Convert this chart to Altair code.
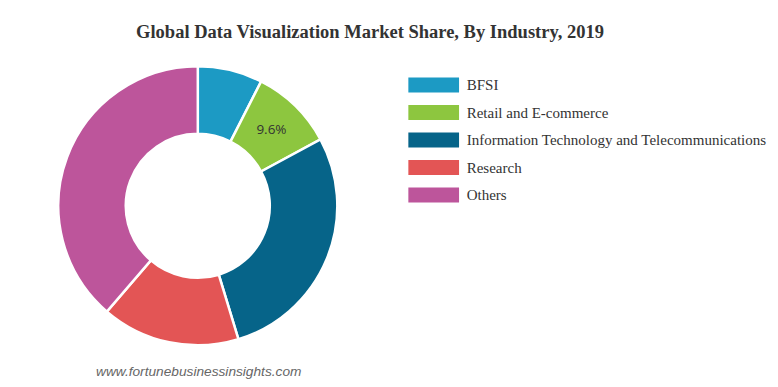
import altair as alt
import pandas as pd

categories = ["BFSI", "Retail and E-commerce", "Information Technology and Telecommunications", "Research", "Others"]
shares = [7.5, 9.6, 28.2, 16.0, 38.7]
slice_labels = ["", "9.6%", "", "", ""]
colors = ["#1c9ac4", "#8dc63f", "#066489", "#e35555", "#bd559b"]
title_text = ["Global Data Visualization Market Share, By Industry, 2019"]
source_text = ["www.fortunebusinessinsights.com"]

df = pd.DataFrame({
    "cat": categories,
    "value": shares,
    "label": slice_labels,
    "idx": list(range(len(categories))),
})

color = alt.Color("cat:N", scale=alt.Scale(domain=categories, range=colors), legend=None)

CX, CY = 189.8, 197.8

donut = alt.Chart(df).mark_arc(outerRadius=139.5, innerRadius=72, stroke="white", strokeWidth=2.5).encode(
    theta=alt.Theta("value:Q", stack=True),
    order=alt.Order("idx:Q"),
    color=color,
    x=alt.value(CX), y=alt.value(CY),
)

slice_text = alt.Chart(df).mark_text(radius=105.5, font="Open Sans", fontSize=13.5, color="#333333").encode(
    theta=alt.Theta("value:Q", stack=True),
    order=alt.Order("idx:Q"),
    x=alt.value(CX), y=alt.value(CY), text="label:N"
)

legend_y = alt.Y("cat:N", scale=alt.Scale(type="point", domain=categories, range=[77, 187], padding=0), axis=None)

swatches = alt.Chart(df).mark_point(
    shape="M-1,-0.3L1,-0.3L1,0.3L-1,0.3Z", size=2570, filled=True, opacity=1, strokeWidth=0
).encode(
    x=alt.value(425.7), y=legend_y, color=color
)

legend_labels = alt.Chart(df).mark_text(
    align="left", baseline="middle", font="Liberation Serif", fontSize=15, color="#333333"
).encode(
    x=alt.value(458.7), y=legend_y, text="cat:N"
)

title = alt.Chart(alt.Data(values=[{"t": t} for t in title_text])).mark_text(
    align="center", baseline="alphabetic", font="Liberation Serif", fontSize=18.5, fontWeight="bold", color="#333333"
).encode(x=alt.value(362), y=alt.value(29.7), text="t:N")

source = alt.Chart(alt.Data(values=[{"t": t} for t in source_text])).mark_text(
    align="left", baseline="alphabetic", font="Liberation Sans", fontSize=13.7, fontStyle="italic", color="#666666"
).encode(x=alt.value(88), y=alt.value(367.5), text="t:N")

chart = alt.layer(donut, slice_text, swatches, legend_labels, title, source).properties(
    width=762, height=371, autosize=alt.AutoSizeParams(type="none"), padding=0
).configure_view(strokeWidth=0)

chart.save("out.html", embed_options={"renderer": "svg", "actions": False})
